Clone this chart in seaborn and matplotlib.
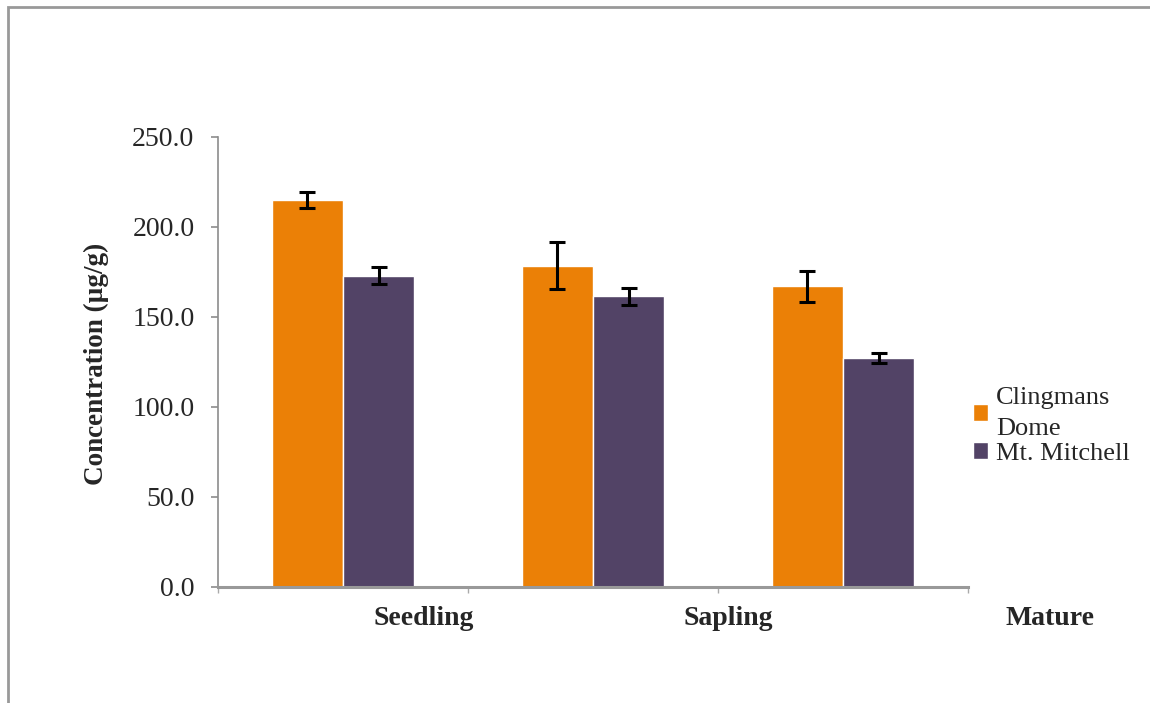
import matplotlib.pyplot as plt
import matplotlib.transforms as mtransforms
from matplotlib.patches import Rectangle
import numpy as np
import pandas as pd
import seaborn as sns

stages = ["Seedling", "Sapling", "Mature"]
sites = ["Clingmans\nDome", "Mt. Mitchell"]
clingmans = [215.0, 178.6, 167.0]
clingmans_err = [4.2, 13.0, 8.5]
mitchell = [173.0, 161.6, 127.0]
mitchell_err = [4.6, 4.7, 2.8]

df = pd.DataFrame({
    "stage": stages * 2,
    "site": [sites[0]] * 3 + [sites[1]] * 3,
    "conc": clingmans + mitchell,
})
errs = [clingmans_err, mitchell_err]

sns.set_style("white")
plt.rcParams["font.family"] = ["Liberation Serif", "DejaVu Serif"]

fig = plt.figure(figsize=(11.5, 7.03), dpi=100)
ax = fig.add_axes([218 / 1150, 1 - 587 / 703, 750 / 1150, 450 / 703])

palette = {sites[0]: "#EB8006", sites[1]: "#524366"}
sns.barplot(data=df, x="stage", y="conc", hue="site", order=stages,
            hue_order=sites, palette=palette, width=0.57, gap=0,
            errorbar=None, saturation=1, ax=ax, legend=True)

# error bars at the bar centres
for cont, e in zip(ax.containers, errs):
    xs = [b.get_x() + b.get_width() / 2 for b in cont]
    ys = [b.get_height() for b in cont]
    ax.errorbar(xs, ys, yerr=e, fmt="none", ecolor="black",
                elinewidth=2.2, capsize=6, capthick=2.2, zorder=5)

ax.set_ylim(0, 250)
ax.set_xlim(-0.5, 2.5)
ax.set_yticks(np.arange(0, 251, 50))
ax.set_yticklabels([f"{v:.1f}" for v in np.arange(0, 251, 50)], fontsize=20)
ax.set_xticks([-0.5, 0.5, 1.5, 2.5])
ax.set_xticklabels([])
ax.tick_params(axis="y", direction="out", length=5, width=1.2,
               color="#8c8c8c", left=True, pad=12)
ax.tick_params(axis="x", direction="out", length=4, width=1,
               color="#aaaaaa", bottom=True)
ax.set_xlabel("")
ax.set_ylabel("Concentration (µg/g)", fontsize=19.5, fontweight="bold")
ax.yaxis.set_label_coords(-0.145, 0.495)

for side in ["top", "right"]:
    ax.spines[side].set_visible(False)
ax.spines["left"].set_color("#8c8c8c")
ax.spines["left"].set_linewidth(1.2)
ax.spines["bottom"].set_color("#999999")
ax.spines["bottom"].set_linewidth(2.2)

# odd category label placement, as in the original
trans = mtransforms.blended_transform_factory(ax.transData, ax.transAxes)
label_x = [0.324, 1.54, 2.83]
for lx, name in zip(label_x, stages):
    ax.text(lx, -0.069, name, transform=trans, ha="center", va="center",
            fontsize=20, fontweight="bold", clip_on=False)

leg = ax.legend(loc="center left", bbox_to_anchor=(962 / 1150, 1 - 426 / 703),
                bbox_transform=fig.transFigure, frameon=False, fontsize=19,
                handlelength=0.6, handleheight=0.6, handletextpad=0.3,
                labelspacing=0.1, borderaxespad=0)
for t in leg.get_texts():
    t.set_linespacing(1.5)

fig.patches.append(Rectangle((8 / 1150, -0.1), 1.2, 1.1 - 7 / 703,
                             transform=fig.transFigure, fill=False,
                             edgecolor="#999999", linewidth=2))

plt.savefig("out.png", dpi=100)
